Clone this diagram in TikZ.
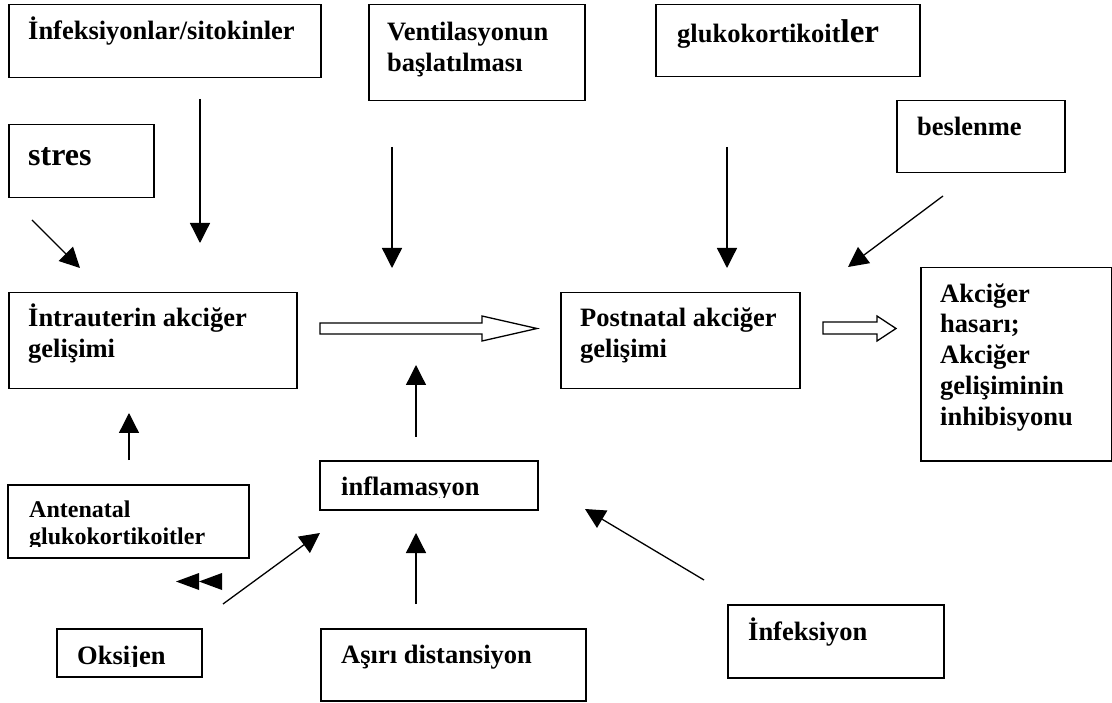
\documentclass[tikz,border=0pt]{standalone}
\usepackage{fontspec}
\setmainfont{Liberation Serif}
\usetikzlibrary{arrows.meta}
\begin{document}
\begin{tikzpicture}[x=1pt,y=-1pt,
  box/.style={draw, line width=1.5pt, inner sep=0pt, anchor=north west},
  lbl/.style={anchor=base west, inner sep=0pt, align=left, font=\fontsize{26.5}{30.5}\selectfont\bfseries},
  smalllbl/.style={lbl, font=\fontsize{24}{28}\selectfont\bfseries},
  conn/.style={line width=1.3pt, -{Triangle[width=20pt,length=20pt]}},
  hollow/.style={draw, line width=1.3pt, fill=white, line join=miter},
  solidtri/.style={fill=black}]
\useasboundingbox (0,0) rectangle (1112,703);
% boxes
\node[box, minimum width=312pt, minimum height=73pt] (b1) at (8,4) {};
\node[box, minimum width=216pt, minimum height=96pt] (bvent) at (368,4) {};
\node[box, minimum width=264pt, minimum height=72pt] (bgluko) at (655,4) {};
\node[box, minimum width=145pt, minimum height=73pt] (bstres) at (8,124) {};
\node[box, minimum width=168pt, minimum height=72pt] (bbesl) at (896,100) {};
\node[box, minimum width=288pt, minimum height=96pt] (bintra) at (8,292) {};
\node[box, minimum width=239pt, minimum height=96pt] (bpost) at (560,292) {};
\node[box, minimum width=191pt, minimum height=193pt] (bakc) at (920,267) {};
\node[box, minimum width=241pt, minimum height=73pt] (bante) at (7,484) {};
\node[box, minimum width=218pt, minimum height=49pt] (binfl) at (319,460) {};
\node[box, minimum width=145pt, minimum height=48pt] (boks) at (56,628) {};
\node[box, minimum width=265pt, minimum height=72pt] (basiri) at (320,628) {};
\node[box, minimum width=216pt, minimum height=73pt] (binfek) at (727,604) {};
% labels
\node[lbl] (t1) at (28,40) {İnfeksiyonlar/sitokinler};
\node[lbl] (tvent1) at (387,41) {Ventilasyonun};
\node[lbl] (tvent2) at (387,72) {başlatılması};
\node[lbl] (tgluko) at (677,43) {glukokortikoit{\fontsize{33}{33}\selectfont ler}};
\node[lbl, font=\fontsize{32}{32}\selectfont\bfseries] (tstres) at (28,166) {stres};
\node[lbl] (tbesl) at (917,136) {beslenme};
\node[lbl] (tintra1) at (28,327) {İntrauterin akciğer};
\node[lbl] (tintra2) at (28,358) {gelişimi};
\node[lbl] (tpost1) at (580,327) {Postnatal akciğer};
\node[lbl] (tpost2) at (580,358) {gelişimi};
\node[lbl] (takc1) at (940,303) {Akciğer};
\node[lbl] (takc2) at (940,333) {hasarı;};
\node[lbl] (takc3) at (940,364) {Akciğer};
\node[lbl] (takc4) at (940,395) {gelişiminin};
\node[lbl] (takc5) at (940,426) {inhibisyonu};
\node[smalllbl] (tante1) at (29,517) {Antenatal};
\begin{scope}
  \clip (0,0) rectangle (300,546);
  \node[smalllbl] (tante2) at (29,544) {glukokortikoitler};
\end{scope}
\begin{scope}
  \clip (300,440) rectangle (560,497);
  \node[lbl] (tinfl) at (341,495) {inflamasyon};
\end{scope}
\begin{scope}
  \clip (40,620) rectangle (220,666);
  \node[lbl] (toks) at (77,664) {Oksijen};
\end{scope}
\node[lbl] (tasiri) at (341,663) {Aşırı distansiyon};
\node[lbl] (tinfek) at (748,640) {İnfeksiyon};
% connector end points
\coordinate (a1s) at (200,99);   \coordinate (a1e) at (200,243);
\coordinate (a2s) at (392,147);  \coordinate (a2e) at (392,268);
\coordinate (a3s) at (727,147);  \coordinate (a3e) at (727,268);
\coordinate (a4s) at (32,220);   \coordinate (a4e) at (80,268);
\coordinate (a5s) at (943,196);  \coordinate (a5e) at (848,267);
\coordinate (a6s) at (129,460);  \coordinate (a6e) at (129,413);
\coordinate (a7s) at (416,437);  \coordinate (a7e) at (416,365);
\coordinate (a8s) at (223,604);  \coordinate (a8e) at (320,533);
\coordinate (a9s) at (416,604);  \coordinate (a9e) at (416,533);
\coordinate (a10s) at (704,580); \coordinate (a10e) at (585,509);
\draw[conn] (a1s) -- (a1e);
\draw[conn] (a2s) -- (a2e);
\draw[conn] (a3s) -- (a3e);
\draw[conn] (a4s) -- (a4e);
\draw[conn] (a5s) -- (a5e);
\draw[conn] (a6s) -- (a6e);
\draw[conn] (a7s) -- (a7e);
\draw[conn] (a8s) -- (a8e);
\draw[conn] (a9s) -- (a9e);
\draw[conn] (a10s) -- (a10e);
% hollow block arrows
\draw[hollow] (320,323) -- (482,323) -- (482,316) -- (537,328.5) -- (482,341) -- (482,334) -- (320,334) -- cycle;
\draw[hollow] (823,322) -- (877,322) -- (877,316) -- (896,328.5) -- (877,341) -- (877,334) -- (823,334) -- cycle;
% double left triangles
\fill[solidtri] (176,581.5) -- (199,573) -- (199,590) -- cycle;
\fill[solidtri] (199,581.5) -- (222,573) -- (222,590) -- cycle;
\end{tikzpicture}
\end{document}
